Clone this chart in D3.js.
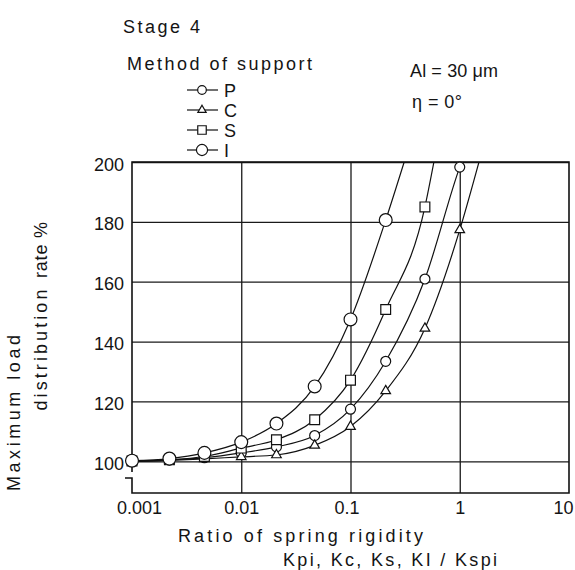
<!DOCTYPE html>
<html>
<head>
<meta charset="utf-8">
<script src="https://cdn.jsdelivr.net/npm/d3@7/dist/d3.min.js"></script>
<style>
  body { margin: 0; background: #fff; }
  svg text { font-family: "Liberation Sans", Arial, sans-serif; fill: #141414; }
</style>
</head>
<body>
<div id="chart"></div>
<script>
const width = 575
const height = 570
const margin = {top: 162, right: 6, bottom: 77, left: 132}

// Datos
const ratio = [0.001, 0.0022, 0.0046, 0.01, 0.021, 0.047, 0.1, 0.21, 0.48, 1.0]
const rateP = [100, 100.4, 101.2, 102.8, 104.8, 108.6, 117.4, 133.4, 160.9, 198.3]
const rateC = [100, 100.3, 100.8, 101.5, 102.1, 105.3, 111.6, 123.5, 144.4, 177.3]
const rateS = [100.1, 100.5, 101.6, 104.4, 107.2, 113.9, 127.1, 150.7, 185.0]
const rateI = [100.2, 100.9, 102.8, 106.4, 112.6, 125.0, 147.4, 180.6]
// donde cada curva sale por el borde superior
const exitP = [1.04, 200]
const exitC = [1.5, 200]
const exitS = [0.58, 200]
const exitI = [0.31, 200]

const xTicks = [0.001, 0.01, 0.1, 1, 10]
const xTickLabels = ["0.001", "0.01", "0.1", "1", "10"]
const yTicks = [100, 120, 140, 160, 180, 200]
const legendNames = ["P", "C", "S", "I"]

const svg = d3.select("#chart")
  .append("svg")
  .attr("width", width)
  .attr("height", height)

const plotBottom = height - margin.bottom
const plotRight = width - margin.right

const x = d3.scaleLog().domain([0.001, 10]).range([margin.left, plotRight])
const y = d3.scaleLinear().domain([89.4, 200]).range([plotBottom, margin.top])

// Ejes y rejilla
const xAxis = d3.axisBottom(x)
  .tickValues(xTicks)
  .tickFormat((d, i) => xTickLabels[i])
  .tickSizeInner(-(plotBottom - margin.top))
  .tickSizeOuter(0)
  .tickPadding(8)

const yAxis = d3.axisLeft(y)
  .tickValues(yTicks)
  .tickSizeInner(-(plotRight - margin.left))
  .tickSizeOuter(0)
  .tickPadding(8)

const xAxisGroup = svg.append("g")
  .attr("transform", `translate(0, ${plotBottom})`)
  .call(xAxis)
const yAxisGroup = svg.append("g")
  .attr("transform", `translate(${margin.left}, 0)`)
  .call(yAxis)

svg.selectAll(".domain").remove()
xAxisGroup.selectAll(".tick").filter(d => d === 0.001 || d === 10).select("line").remove()
svg.selectAll(".tick line").attr("stroke", "#1a1a1a").attr("stroke-width", 1.3)
svg.selectAll(".tick text")
  .attr("font-family", "Liberation Sans, Arial, sans-serif")
  .attr("font-size", 18)
  .attr("fill", "#141414")
yAxisGroup.selectAll(".tick text").attr("dy", "0.45em")
xAxisGroup.selectAll(".tick text")
  .attr("dx", d => d === 0.001 ? 7 : d === 10 ? -6 : d === 0.1 ? -4 : 0)

// Marco con corte en el eje
const frame = d3.path()
frame.moveTo(margin.left, 472)
frame.lineTo(margin.left, margin.top)
frame.lineTo(plotRight, margin.top)
frame.lineTo(plotRight, plotBottom)
frame.lineTo(margin.left, plotBottom)
frame.lineTo(margin.left, 478)
frame.lineTo(margin.left - 7, 478)
svg.append("path")
  .attr("d", frame.toString())
  .attr("fill", "none")
  .attr("stroke", "#111")
  .attr("stroke-width", 1.6)

// Curvas
const series = [
  {name: "P", values: rateP, exit: exitP, shape: d3.symbolCircle, size: 78},
  {name: "C", values: rateC, exit: exitC, shape: d3.symbolTriangle, size: 40},
  {name: "S", values: rateS, exit: exitS, shape: d3.symbolSquare, size: 96},
  {name: "I", values: rateI, exit: exitI, shape: d3.symbolCircle, size: 130},
]
series.forEach(s => {
  s.points = s.values.map((v, i) => [ratio[i], v])
})

svg.append("clipPath").attr("id", "plotClip")
  .append("rect")
  .attr("x", margin.left).attr("y", margin.top)
  .attr("width", plotRight - margin.left).attr("height", plotBottom - margin.top)

const line = d3.line()
  .x(d => x(d[0]))
  .y(d => y(d[1]))
  .curve(d3.curveMonotoneX)

const elementGroup = svg.append("g")

elementGroup.selectAll("path.curve")
  .data(series)
  .join("path")
  .attr("class", "curve")
  .attr("clip-path", "url(#plotClip)")
  .attr("fill", "none")
  .attr("stroke", "#111")
  .attr("stroke-width", 1.2)
  .attr("d", s => line(s.points.concat([s.exit])))

series.forEach(s => {
  elementGroup.selectAll(null)
    .data(s.points)
    .join("path")
    .attr("transform", d => `translate(${x(d[0])}, ${y(d[1])})`)
    .attr("d", d3.symbol().type(s.shape).size(s.size))
    .attr("fill", "#fff")
    .attr("stroke", "#111")
    .attr("stroke-width", 1.2)
})

// Textos
const addText = (txt, px, py, len, opts = {}) => {
  const t = svg.append("text")
    .attr("x", px).attr("y", py)
    .attr("font-size", opts.size || 18)
    .text(txt)
  if (len) t.attr("textLength", len).attr("lengthAdjust", "spacing")
  if (opts.anchor) t.attr("text-anchor", opts.anchor)
  if (opts.transform) t.attr("transform", opts.transform).attr("x", 0).attr("y", 0)
  return t
}

addText("Stage 4", 123, 33, 77)
addText("Method of support", 127, 70, 185)
addText("Al = 30 μm", 410, 77, 88)
addText("η = 0°", 412, 108, 50)

// Leyenda
const legend = svg.append("g")
legendNames.forEach((name, i) => {
  const s = series.find(d => d.name === name)
  const cy = 90 + i * 20
  legend.append("line")
    .attr("x1", 187).attr("x2", 218)
    .attr("y1", cy).attr("y2", cy)
    .attr("stroke", "#111").attr("stroke-width", 1.2)
  legend.append("path")
    .attr("transform", `translate(202, ${cy})`)
    .attr("d", d3.symbol().type(s.shape).size(s.size * 0.75))
    .attr("fill", "#fff").attr("stroke", "#111").attr("stroke-width", 1.2)
  legend.append("text")
    .attr("x", 224).attr("y", cy + 6.5)
    .attr("font-size", 18)
    .text(name)
})

// Titulos de ejes
addText("Ratio of spring rigidity", 178, 542, 245)
addText("Kpi, Kc, Ks, KI / Kspi", 283, 566, 214)
addText("Maximum load", 0, 0, 156, {anchor: "middle", transform: "translate(20, 413) rotate(-90)"})
addText("distribution", 0, 0, 121, {anchor: "middle", transform: "translate(47, 350) rotate(-90)"})
addText("rate %", 0, 0, 56, {anchor: "middle", transform: "translate(47, 250) rotate(-90)"})
</script>
</body>
</html>
